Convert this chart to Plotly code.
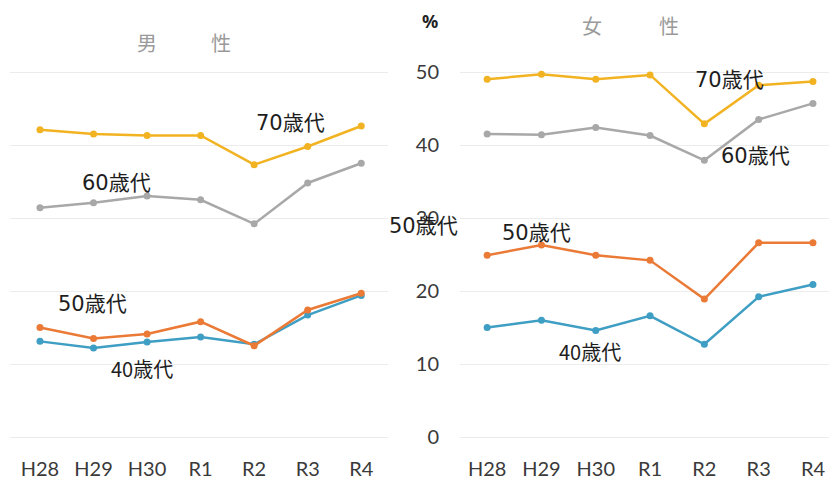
import plotly.graph_objects as go

W, H = 837, 486
OFF = 8  # page body margin in the browser

years = ["H28", "H29", "H30", "R1", "R2", "R3", "R4"]

male_70 = [42.1, 41.5, 41.3, 41.3, 37.3, 39.8, 42.6]
male_60 = [31.4, 32.1, 33.0, 32.5, 29.2, 34.8, 37.5]
male_50 = [15.0, 13.5, 14.1, 15.8, 12.5, 17.4, 19.7]
male_40 = [13.1, 12.2, 13.0, 13.7, 12.7, 16.7, 19.4]

female_70 = [49.0, 49.7, 49.0, 49.6, 42.9, 48.2, 48.7]
female_60 = [41.5, 41.4, 42.4, 41.3, 37.9, 43.5, 45.7]
female_50 = [24.9, 26.3, 24.9, 24.2, 18.9, 26.6, 26.6]
female_40 = [15.0, 16.0, 14.6, 16.6, 12.7, 19.2, 20.9]

y_ticks = [0, 10, 20, 30, 40, 50]

colors = {"70": "#F2B322", "60": "#A8A8A8", "50": "#EA7A36", "40": "#3F9EC3"}

fig = go.Figure()

def add(xa, ya, vals, c):
    fig.add_trace(go.Scatter(
        x=years, y=vals, xaxis=xa, yaxis=ya, mode="lines+markers",
        line=dict(color=c, width=2.5), marker=dict(color=c, size=7),
        showlegend=False, hoverinfo="skip"))

for v, k in [(male_40, "40"), (male_50, "50"), (male_60, "60"), (male_70, "70")]:
    add("x", "y", v, colors[k])
for v, k in [(female_40, "40"), (female_50, "50"), (female_60, "60"), (female_70, "70")]:
    add("x2", "y2", v, colors[k])

zero_px = 437 - OFF
ybot = 450 - OFF
ppu = 7.3
yrange = [-(ybot - zero_px) / ppu, zero_px / ppu]
ydom = [(H - ybot) / H, 1]

tickfont = dict(family="Lato, 'Noto Sans', sans-serif", size=20, color="#3a3a3a")
grid = "#ececec"

fig.update_layout(
    width=W, height=H, margin=dict(l=0, r=0, t=0, b=0),
    paper_bgcolor="white", plot_bgcolor="white",
    xaxis=dict(domain=[(10 - OFF) / W, (388 - OFF) / W], range=[-0.56, 6.5], showgrid=False,
               showline=False, ticks="", tickfont=tickfont, ticklabelstandoff=5),
    yaxis=dict(domain=ydom, range=yrange, tickvals=y_ticks, showticklabels=False,
               showgrid=True, gridcolor=grid, gridwidth=1, zeroline=False, showline=False),
    xaxis2=dict(domain=[(460 - OFF) / W, 1], range=[-0.5, 6.59], showgrid=False,
                showline=False, ticks="", tickfont=tickfont, ticklabelstandoff=5),
    yaxis2=dict(domain=ydom, range=yrange, tickvals=y_ticks, anchor="x2",
                showgrid=True, gridcolor=grid, gridwidth=1, zeroline=False, showline=False,
                tickfont=tickfont, ticklabelstandoff=20),
)

def px(x, y):
    return (x - OFF) / W, 1 - (y - OFF) / H

label_font = dict(family="'DejaVu Sans', 'Noto Sans CJK JP', sans-serif", size=21, color="#1e1e1e")
small_font = dict(family="'Noto Sans CJK JP', sans-serif", size=20, color="#1e1e1e")
title_font = dict(family="'Noto Sans CJK JP', sans-serif", size=20, color="#9a9a9a")

texts = [
    ("男", 147, 42, title_font),
    ("性", 221, 42, title_font),
    ("女", 592, 25, title_font),
    ("性", 669, 25, title_font),
    ("<b>%</b>", 430, 21, dict(family="'Noto Sans', sans-serif", size=18, color="#222")),
    ("70歳代", 290, 123, label_font),
    ("60歳代", 117, 183, label_font),
    ("50歳代", 92, 304, label_font),
    ("40歳代", 142, 368, small_font),
    ("70歳代", 729, 80, label_font),
    ("60歳代", 755, 156, label_font),
    ("50歳代", 536, 233, label_font),
    ("50歳代", 423, 226, label_font),
    ("40歳代", 590, 351, small_font),
]
for t, x, y, f in texts:
    xx, yy = px(x, y)
    fig.add_annotation(text=t, x=xx, y=yy, xref="paper", yref="paper",
                       showarrow=False, font=f, xanchor="center", yanchor="middle")

fig.write_html("out.html")
